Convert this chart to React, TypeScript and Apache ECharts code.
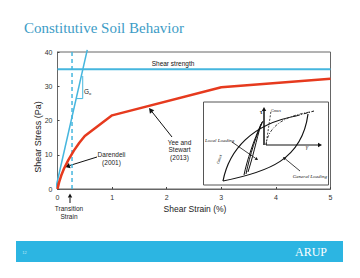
import React, { useEffect, useRef } from "react";
import * as echarts from "echarts";

// ---- data ----
const strainX = [0, 0.03, 0.07, 0.12, 0.2, 0.3, 0.4, 0.5, 1, 3, 5];
const stressY = [0, 2, 4, 6, 8.5, 11.2, 13.5, 15.5, 21.5, 29.7, 32.2];
const gmaxLine = [[-0.035, 0], [0.545, 40.6]];
const transitionStrain = 0.266;
const shearStrength = 35;
const g0Triangle = [[0.348, 26.4], [0.462, 26.4], [0.462, 33]];
const xTicks = [0, 1, 2, 3, 4, 5];
const yTicks = [0, 10, 20, 30, 40];

const BLUE = "#45b6de";
const RED = "#e63a1e";
const SANS = '"Liberation Sans", Arial, sans-serif';
const SERIF = '"Liberation Serif", "Times New Roman", serif';

function arrow(x1: number, y1: number, x2: number, y2: number, color = "#111", w = 1, head = 4) {
  const a = Math.atan2(y2 - y1, x2 - x1);
  const hw = head * 0.55;
  const bx = x2 - head * Math.cos(a);
  const by = y2 - head * Math.sin(a);
  const px = -Math.sin(a) * hw;
  const py = Math.cos(a) * hw;
  return [
    { type: "line", shape: { x1, y1, x2: bx, y2: by }, style: { stroke: color, lineWidth: w } },
    {
      type: "polygon",
      shape: { points: [[x2, y2], [bx + px, by + py], [bx - px, by - py]] },
      style: { fill: color },
    },
  ];
}

function txt(text: string, x: number, y: number, size: number, opts: any = {}) {
  return {
    type: "text",
    x,
    y,
    rotation: opts.rotation || 0,
    z: 20,
    style: {
      text,
      font: `${opts.style || "normal"} ${opts.weight || "normal"} ${size}px ${opts.family || SANS}`,
      fill: opts.fill || "#222",
      align: opts.align || "center",
      verticalAlign: "middle",
    },
  };
}

function bez(x1: number, y1: number, c1x: number, c1y: number, c2x: number, c2y: number, x2: number, y2: number, w = 1, dash?: number[]) {
  return {
    type: "bezierCurve",
    z: 12,
    shape: { x1, y1, x2, y2, cpx1: c1x, cpy1: c1y, cpx2: c2x, cpy2: c2y },
    style: { stroke: "#111", lineWidth: w, fill: null, lineDash: dash },
  };
}

function ln(x1: number, y1: number, x2: number, y2: number, w = 1, dash?: number[], color = "#111") {
  return { type: "line", z: 12, shape: { x1, y1, x2, y2 }, style: { stroke: color, lineWidth: w, lineDash: dash } };
}

export default function App() {
  const ref = useRef<HTMLDivElement>(null);
  useEffect(() => {
    if (!ref.current) return;
    const chart = echarts.init(ref.current, null, { renderer: "svg" });
    const curve = strainX.map((x, i) => [x, stressY[i]]);

    const inset: any[] = [
      { type: "rect", z: 11, shape: { x: 203.5, y: 102, width: 125, height: 83 }, style: { fill: "#fff", stroke: "#555", lineWidth: 1 } },
      ...arrow(266, 145, 322, 145, "#111", 1, 4).map((e) => ({ ...e, z: 12 })),
      ...arrow(264, 145, 264, 107, "#111", 1.5, 4).map((e) => ({ ...e, z: 12 })),
      bez(223, 181, 229, 150, 252, 124, 296, 116, 1.2),
      ln(296, 116, 314, 111, 1, [4, 1.5, 1, 1.5]),
      bez(223, 181, 268, 172, 302, 160, 308, 114, 1.2),
      bez(266, 145, 268, 126, 285, 116, 310, 112, 0.8, [3, 1.5, 1, 1.5]),
      ln(266, 145, 271, 111, 0.8, [2, 1.5]),
      bez(246, 174, 250, 155, 256, 135, 263, 121, 1),
      bez(248, 172, 255, 150, 258, 132, 262, 122, 1),
      bez(244, 175, 247, 160, 254, 140, 261, 124, 1),
      ...arrow(232, 142, 258, 160, "#111", 0.8, 3).map((e) => ({ ...e, z: 12 })),
      ...arrow(300, 171, 283, 157, "#111", 0.8, 3).map((e) => ({ ...e, z: 12 })),
      txt("Local Loading", 205, 140, 5, { align: "left", style: "italic", family: SERIF }),
      txt("General Loading", 327, 176, 5, { align: "right", style: "italic", family: SERIF }),
      txt("τ", 261, 112, 6, { family: SERIF, weight: "bold" }),
      txt("γ", 307, 147, 6, { family: SERIF, style: "italic" }),
      txt("Gmax", 276, 110, 4, { family: SERIF }),
      txt("Gmax", 219, 159, 4, { family: SERIF, rotation: Math.PI / 2.5 }),
    ];

    const graphic: any[] = [
      txt("Constitutive Soil Behavior", 24, 28, 15, { align: "left", family: SERIF, fill: "#3d9cc6" }),
      txt("Shear Stress (Pa)", 38, 137, 9, { rotation: Math.PI / 2, fill: "#222" }),
      txt("Shear Strain (%)", 195, 209, 8.5, { fill: "#222" }),
      txt("Shear strength", 173, 63, 6.5, { fill: "#111" }),
      {
        type: "text",
        x: 84,
        y: 91,
        z: 20,
        style: {
          text: "{a|G}{b|o}",
          rich: {
            a: { font: `6.5px ${SANS}`, fill: "#222" },
            b: { font: `4px ${SANS}`, fill: "#222", padding: [4, 0, 0, 0] },
          },
          align: "left",
          verticalAlign: "middle",
        },
      },
      txt("Darendeli", 111.5, 154, 6.5),
      txt("(2001)", 111.5, 162, 6.5),
      ...arrow(97, 157, 65, 167, "#111", 1, 5),
      txt("Yee and", 179.5, 142, 6.5),
      txt("Stewart", 179.5, 149.5, 6.5),
      txt("(2013)", 179.5, 157, 6.5),
      ...arrow(172, 137, 149, 108, "#111", 1, 5),
      txt("Transition", 69, 208, 6.5),
      txt("Strain", 69, 216, 6.5),
      ...arrow(70, 203, 70, 193.5, "#111", 1, 4),
      ...inset,
      { type: "rect", z: 5, shape: { x: 16, y: 241, width: 327, height: 21 }, style: { fill: "#2cb5e2" } },
      txt("ARUP", 311, 251.5, 12, { family: SERIF, fill: "#ffffff" }),
      txt("12", 24.5, 252, 4, { fill: "#bfe6f5" }),
    ];

    chart.setOption({
      animation: false,
      grid: { left: 57.5, top: 52, width: 273, height: 137, show: true, borderColor: "#666", borderWidth: 1, backgroundColor: "transparent" },
      xAxis: {
        type: "value",
        min: xTicks[0],
        max: xTicks[xTicks.length - 1],
        interval: 1,
        axisLine: { show: true, lineStyle: { color: "#666", width: 1 } },
        axisTick: { show: true, inside: true, length: 2, lineStyle: { color: "#444" } },
        axisLabel: { fontSize: 7, color: "#333", margin: 5, fontFamily: SANS },
        splitLine: { show: false },
      },
      yAxis: {
        type: "value",
        min: yTicks[0],
        max: yTicks[yTicks.length - 1],
        interval: 10,
        axisLine: { show: true, lineStyle: { color: "#666", width: 1 } },
        axisTick: { show: true, inside: true, length: 2, lineStyle: { color: "#444" } },
        axisLabel: { fontSize: 7, color: "#333", margin: 5, fontFamily: SANS },
        splitLine: { show: false },
      },
      series: [
        {
          type: "line",
          data: [[xTicks[0], shearStrength], [xTicks[xTicks.length - 1], shearStrength]],
          showSymbol: false,
          lineStyle: { color: BLUE, width: 2 },
          z: 3,
        },
        {
          type: "line",
          data: [[transitionStrain, yTicks[0]], [transitionStrain, yTicks[yTicks.length - 1]]],
          showSymbol: false,
          lineStyle: { color: BLUE, width: 1.5, type: [4, 3] },
          z: 3,
        },
        {
          type: "line",
          data: gmaxLine,
          showSymbol: false,
          clip: false,
          lineStyle: { color: BLUE, width: 1.5 },
          z: 3,
        },
        {
          type: "line",
          data: g0Triangle,
          showSymbol: false,
          lineStyle: { color: BLUE, width: 1 },
          z: 3,
        },
        {
          type: "line",
          data: curve,
          showSymbol: false,
          lineStyle: { color: RED, width: 2.5 },
          z: 4,
        },
      ],
      graphic,
    });
    return () => chart.dispose();
  }, []);
  return <div ref={ref} style={{ position: "absolute", left: 0, top: 0, width: 360, height: 278, background: "#fff" }} />;
}
